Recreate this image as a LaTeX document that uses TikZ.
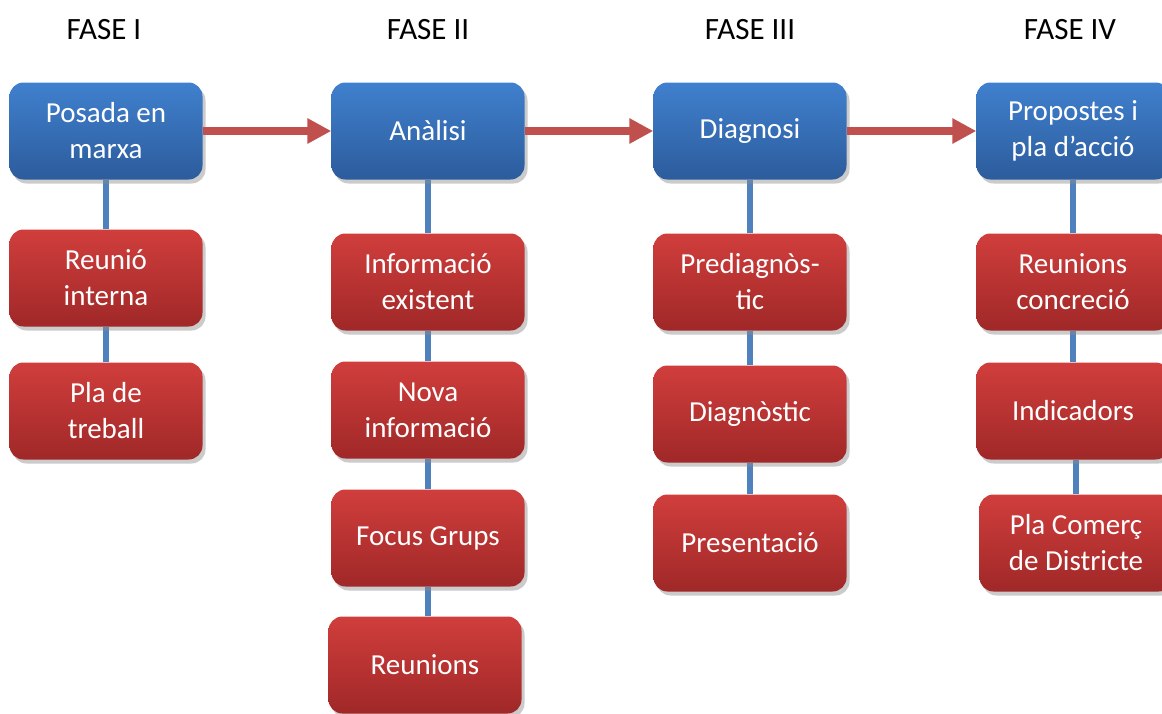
\documentclass[tikz,border=0pt]{standalone}
\usepackage{fontspec}
\setmainfont{Carlito}
\usetikzlibrary{arrows.meta,shadows,backgrounds}
\definecolor{fasetop}{RGB}{64,128,206}
\definecolor{fasebot}{RGB}{44,92,156}
\definecolor{taskTop}{RGB}{208,62,60}
\definecolor{taskBot}{RGB}{160,40,40}
\definecolor{flowred}{RGB}{192,80,77}
\definecolor{linkblue}{RGB}{79,129,189}

\begin{document}
\begin{tikzpicture}[x=1pt,y=-1pt,
    box/.style={rounded corners=14pt, minimum width=193pt, minimum height=97pt,
                align=center, text=white, font=\fontsize{29}{36}\selectfont,
                drop shadow={shadow xshift=3pt, shadow yshift=-4pt, fill=black!45, opacity=.45}},
    fase/.style={box, top color=fasetop, bottom color=fasebot},
    task/.style={box, top color=taskTop, bottom color=taskBot},
    title/.style={font=\fontsize{31}{36}\selectfont},
    flow/.style={flowred, line width=8pt, -{Triangle[length=24pt,width=24pt]}},
    link/.style={linkblue, line width=6pt}]
  \useasboundingbox (0,0) rectangle (1162,713);
  \clip (0,0) rectangle (1162,713);

  \node[title] (t1) at (104,30) {FASE I};
  \node[title] (t2) at (428,30) {FASE II};
  \node[title] (t3) at (750,30) {FASE III};
  \node[title] (t4) at (1070,30) {FASE IV};

  % fase I
  \node[fase] (f1) at (106,131) {Posada en\\marxa};
  \node[task] (a1) at (106,278) {Reunió\\interna};
  \node[task] (a2) at (106,411) {Pla de\\treball};

  % fase II
  \node[fase] (f2) at (428,131) {Anàlisi};
  \node[task] (b1) at (428,282) {Informació\\existent};
  \node[task] (b2) at (428,410) {Nova\\informació};
  \node[task] (b3) at (428,538) {Focus Grups};
  \node[task] (b4) at (425,665) {Reunions};

  % fase III
  \node[fase] (f3) at (750,131) {Diagnosi};
  \node[task] (c1) at (750,282) {Prediagnòs-\\tic};
  \node[task] (c2) at (750,414) {Diagnòstic};
  \node[task] (c3) at (750,543) {Presentació};

  % fase IV
  \node[fase] (f4) at (1073,131) {Propostes i\\pla d’acció};
  \node[task] (d1) at (1073,282) {Reunions\\concreció};
  \node[task] (d2) at (1073,411) {Indicadors};
  \node[task] (d3) at (1076,543) {Pla Comerç\\de Districte};

  \draw[flow] (f1) -- (f2);
  \draw[flow] (f2) -- (f3);
  \draw[flow] (f3) -- (f4);

  \begin{scope}[on background layer]
    \draw[link] (f1.south) -- (a1.north);
    \draw[link] (a1.south) -- (a2.north);
    \draw[link] (f2.south) -- (b1.north);
    \draw[link] (b1.south) -- (b2.north);
    \draw[link] (b2.south) -- (b3.north);
    \draw[link] (b3.south) -- (b3.south |- b4.north);
    \draw[link] (f3.south) -- (c1.north);
    \draw[link] (c1.south) -- (c2.north);
    \draw[link] (c2.south) -- (c3.north);
    \draw[link] (f4.south) -- (d1.north);
    \draw[link] (d1.south) -- (d2.north);
    \draw[link] (d3.north) -- (d3.north |- d2.south);
  \end{scope}
\end{tikzpicture}
\end{document}
